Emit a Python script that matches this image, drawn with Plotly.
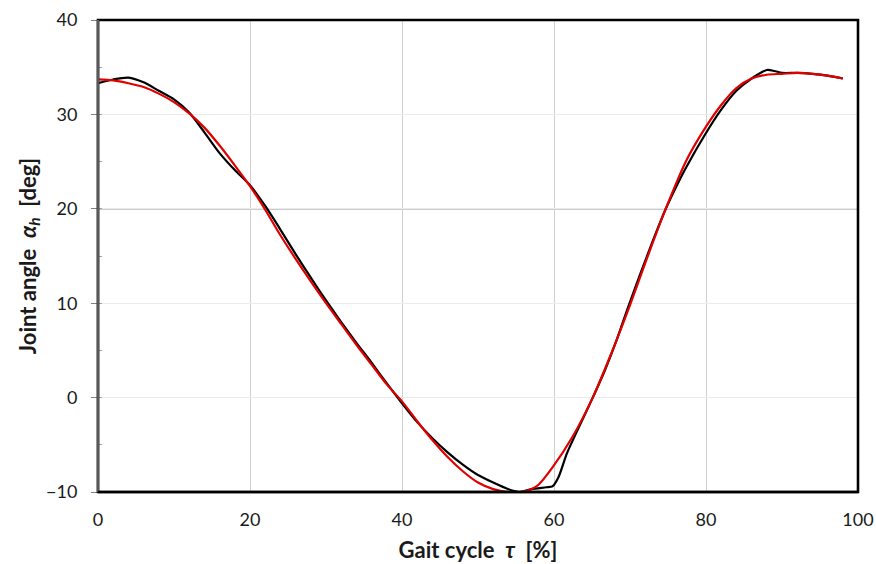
import plotly.graph_objects as go

# Measured (black) gait curve
meas_x = [0, 2, 4, 6, 8, 10, 12, 14, 16, 18, 20, 22, 24, 26, 28, 30, 32, 34, 36, 38, 40,
          42, 44, 46, 48, 50, 52, 54, 55.5, 57, 59, 59.8, 60.6, 61.7, 63.3, 65.1, 66.7, 68.2,
          69.8, 71.4, 73.0, 74.6, 76.0, 77.4, 79.9, 82, 84, 86, 88, 89, 90, 92, 94, 96, 98]
meas_y = [33.3, 33.7, 33.9, 33.4, 32.5, 31.6, 30.2, 28.1, 25.9, 24.1, 22.5, 20.3, 17.8, 15.2,
          12.7, 10.3, 8.0, 5.8, 3.7, 1.5, -0.6, -2.6, -4.3, -5.8, -7.1, -8.2, -9.0, -9.7,
          -10.0, -9.7, -9.5, -9.4, -8.4, -5.9, -3.1, 0.0, 2.9, 6.0, 9.7, 13.2, 16.6, 19.8,
          22.2, 24.4, 27.9, 30.5, 32.5, 33.8, 34.7, 34.6, 34.4, 34.4, 34.3, 34.1, 33.8]

# Fitted (red) curve
fit_x = [0, 2, 4, 6, 8, 10, 12, 14, 16, 18, 20, 22, 24, 26, 28, 30, 32, 34, 36, 38, 40,
         42, 44, 46, 48, 50, 52, 54, 55.5, 57, 58, 59.8, 62.4, 65.1, 67.5, 70, 72.3, 74.6,
         77.4, 80, 82, 84, 86, 88, 90, 92, 94, 96, 98]
fit_y = [33.7, 33.6, 33.3, 32.9, 32.2, 31.3, 30.1, 28.6, 26.7, 24.6, 22.4, 19.9, 17.2, 14.7,
         12.3, 10.0, 7.8, 5.6, 3.5, 1.4, -0.4, -2.5, -4.5, -6.3, -7.8, -9.0, -9.7, -10.0,
         -10.0, -9.7, -9.2, -7.4, -4.2, 0.0, 4.6, 9.8, 14.9, 19.8, 25.1, 28.7,
         31.0, 32.8, 33.8, 34.2, 34.3, 34.4, 34.3, 34.1, 33.8]

x_ticks = [0, 20, 40, 60, 80, 100]
y_ticks = [-10, 0, 10, 20, 30, 40]

FONT = "Lato"

fig = go.Figure()
fig.add_trace(go.Scatter(x=meas_x, y=meas_y, mode="lines",
                         line=dict(color="black", width=2.2, shape="spline", smoothing=0.7),
                         showlegend=False))
fig.add_trace(go.Scatter(x=fit_x, y=fit_y, mode="lines",
                         line=dict(color="#e00000", width=2.2, shape="spline", smoothing=0.8),
                         showlegend=False))

# darker horizontal line at 20
fig.add_shape(type="line", xref="paper", yref="y", x0=0, x1=1, y0=20, y1=20,
              line=dict(color="#9a9a9a", width=1.2), layer="below")
# frame
fig.add_shape(type="rect", xref="paper", yref="paper", x0=0, x1=1, y0=0, y1=1,
              line=dict(color="black", width=2.6), layer="above")
fig.add_shape(type="line", xref="paper", yref="paper", x0=0, x1=0, y0=0, y1=1,
              line=dict(color="#595959", width=2.6), layer="above")
fig.add_shape(type="line", xref="paper", yref="paper", x0=0, x1=1, y0=0, y1=0,
              line=dict(color="black", width=2.6), layer="above")

fig.update_xaxes(range=[0, 100], tickvals=x_ticks, showgrid=True, gridcolor="#d0d0d0",
                 gridwidth=1.2, zeroline=False, showline=False, ticks="",
                 ticklabelstandoff=15, automargin=False,
                 tickfont=dict(family=FONT, size=18, color="#1a1a1a"),
                 title=dict(text="<b>Gait cycle  <i>τ</i>  [%]</b>",
                            font=dict(family=FONT, size=22, color="#1a1a1a"), standoff=13))
fig.update_yaxes(range=[-10, 40], tickvals=y_ticks, showgrid=True, gridcolor="#ebebeb",
                 gridwidth=1, zeroline=False, showline=False,
                 ticks="outside", ticklen=6, tickcolor="#808080", tickwidth=1,
                 ticklabelstandoff=10, automargin=False,
                 minor=dict(dtick=5, tick0=-5, ticks="inside", ticklen=4,
                            tickcolor="#a0a0a0", showgrid=False),
                 tickfont=dict(family=FONT, size=18, color="#1a1a1a"),
                 title=dict(text="<b>Joint angle  <i>α<sub>h</sub></i>  [deg]</b>",
                            font=dict(family=FONT, size=22, color="#1a1a1a"), standoff=3))

fig.update_layout(width=876, height=564, plot_bgcolor="white", paper_bgcolor="white",
                  margin=dict(l=98, r=18, t=20, b=72, autoexpand=False))

fig.write_html(
    "out.html",
    config={"displayModeBar": False},
    post_script=("document.body.style.margin='0';"
                 "document.body.style.overflow='hidden';"
                 "document.documentElement.style.overflow='hidden';"),
)
